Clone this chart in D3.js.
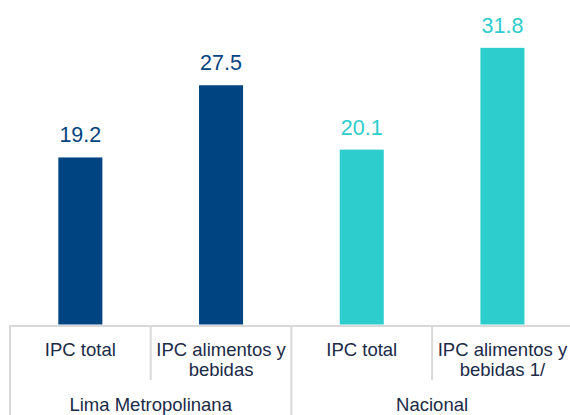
<!DOCTYPE html>
<html><head><meta charset="utf-8">
<script src="https://cdn.jsdelivr.net/npm/d3@7"></script>
<style>body{margin:0;background:#fff}svg{display:block;font-family:"Liberation Sans",Arial,sans-serif}</style>
</head><body><svg id="c" width="570" height="415"></svg>
<script>
const categories = ["IPC total", "IPC alimentos y bebidas", "IPC total", "IPC alimentos y bebidas 1/"];
const categoryLines = [["IPC total"], ["IPC alimentos y", "bebidas"], ["IPC total"], ["IPC alimentos y", "bebidas 1/"]];
const values = [19.2, 27.5, 20.1, 31.8];
const groups = ["Lima Metropolinana", "Nacional"];
const groupOf = [0, 0, 1, 1];
const colors = ["#004481", "#2DCCCD"];

const svg = d3.select("#c");
const ids = categories.map((d, i) => i);
const x = d3.scaleBand().domain(ids).range([10, 572.8]).padding(0);
const bw = x.bandwidth() * 0.313;
const y = d3.scaleLinear().domain([0, 35]).range([324.5, 20]);
const axisY = 326;
const gridCol = "#d9d9d9";

svg.selectAll("rect.bar").data(ids).join("rect").attr("class", "bar")
  .attr("x", i => x(i) + (x.bandwidth() - bw) / 2)
  .attr("y", i => y(values[i]))
  .attr("width", bw)
  .attr("height", i => y(0) - y(values[i]))
  .attr("fill", i => colors[groupOf[i]]);

svg.selectAll("text.val").data(ids).join("text").attr("class", "val")
  .attr("x", i => x(i) + x.bandwidth() / 2)
  .attr("y", i => y(values[i]) - 15)
  .attr("text-anchor", "middle")
  .attr("font-size", 21.5)
  .attr("fill", i => colors[groupOf[i]])
  .text(i => values[i].toFixed(1));

// axis line
svg.append("line").attr("x1", 10).attr("x2", 572.8).attr("y1", axisY).attr("y2", axisY)
  .attr("stroke", gridCol).attr("stroke-width", 2);

// separators
ids.concat([ids.length]).forEach(i => {
  const xp = i < ids.length ? x(i) : x(ids.length - 1) + x.bandwidth();
  const isGroup = i === 0 || i === ids.length || groupOf[i] !== groupOf[i - 1];
  svg.append("line").attr("x1", xp).attr("x2", xp).attr("y1", axisY - 1)
    .attr("y2", isGroup ? 415 : 380).attr("stroke", gridCol).attr("stroke-width", 2);
});

// category labels
ids.forEach(i => {
  const t = svg.append("text").attr("text-anchor", "middle").attr("font-size", 18.5).attr("fill", "#1b2a47");
  categoryLines[i].forEach((ln, k) => {
    t.append("tspan").attr("x", x(i) + x.bandwidth() / 2).attr("y", 356 + k * 20).text(ln);
  });
});

// group labels
groups.forEach((g, gi) => {
  const members = ids.filter(i => groupOf[i] === gi);
  const x0 = x(members[0]), x1 = x(members[members.length - 1]) + x.bandwidth();
  svg.append("text").attr("x", (x0 + x1) / 2).attr("y", 411).attr("text-anchor", "middle")
    .attr("font-size", 18.5).attr("fill", "#1b2a47").text(g);
});
</script></body></html>
